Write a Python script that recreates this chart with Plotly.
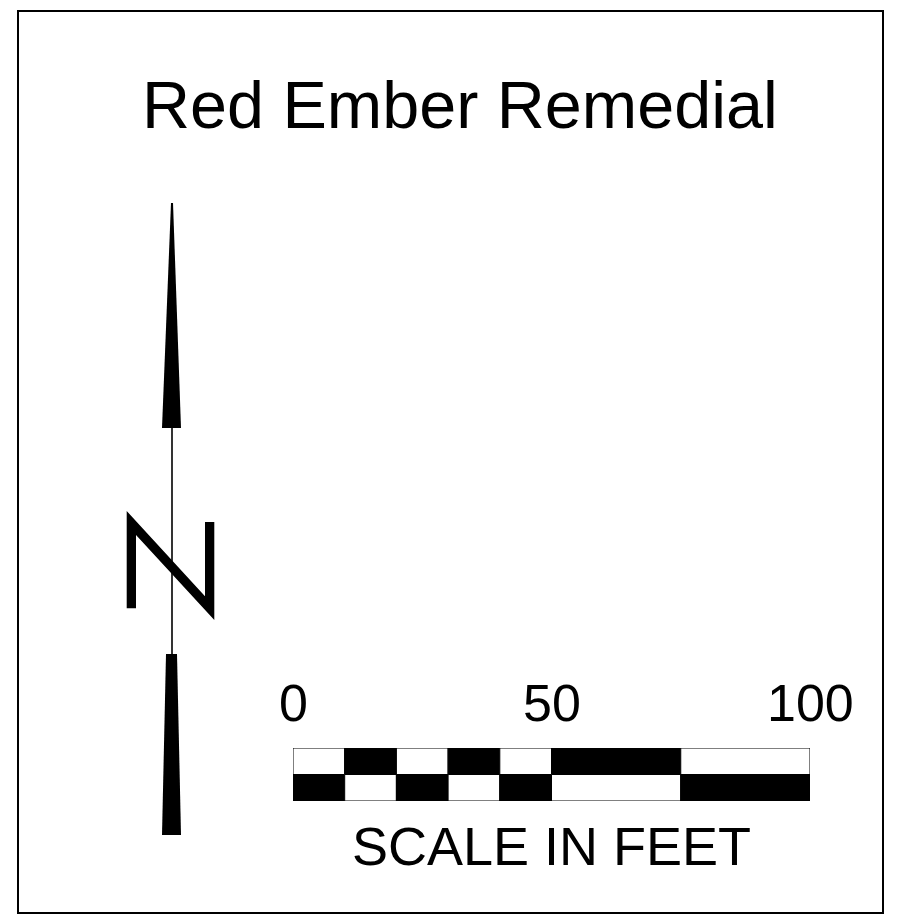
import plotly.graph_objects as go

# ---- data ----
title_text = "Red Ember Remedial"
scale_edges_ft = [0, 10, 20, 30, 40, 50, 75, 100]
top_row_colors = ["white", "black", "white", "black", "white", "black", "white"]
bottom_row_colors = ["black", "white", "black", "white", "black", "white", "black"]
scale_tick_values = [0, 50, 100]
scale_tick_labels = ["0", "50", "100"]
scale_caption = "SCALE IN FEET"

# page: the figure sits 8px in from the window's top-left corner (body margin)
OFF = 8
WIN_W, WIN_H = 901, 923
W, H = WIN_W - OFF, WIN_H - OFF
FONT = "Liberation Sans, Arial, Helvetica, sans-serif"


def dx(px):  # window pixel -> paper fraction (x)
    return (px - OFF) / W


def dy(px):  # window pixel -> paper fraction (y, from bottom)
    return 1 - (px - OFF) / H


fig = go.Figure()

starts = scale_edges_ft[:-1]
widths = [b - a for a, b in zip(scale_edges_ft[:-1], scale_edges_ft[1:])]

for row, colors in ((1, top_row_colors), (0, bottom_row_colors)):
    fig.add_trace(go.Bar(
        x=widths, base=starts, y=[row] * len(widths), orientation="h",
        width=1.0,
        marker=dict(color=colors, line=dict(color="black", width=1)),
        hoverinfo="skip", showlegend=False,
        xaxis="x", yaxis="y",
    ))

# helper trace for the full-page pixel axis
fig.add_trace(go.Scatter(x=[None], y=[None], xaxis="x2", yaxis="y2",
                         showlegend=False, hoverinfo="skip"))

# scale bar axes: 0 ft at px 293, 100 ft at px 810; rows between px 748 and 801
fig.update_layout(
    width=W, height=H,
    margin=dict(l=0, r=0, t=0, b=0),
    paper_bgcolor="white", plot_bgcolor="rgba(0,0,0,0)",
    barmode="overlay",
    xaxis=dict(domain=[dx(293), dx(810)], range=[0, 100], visible=False,
               fixedrange=True, anchor="y"),
    yaxis=dict(domain=[dy(801), dy(748)], range=[-0.5, 1.5], visible=False,
               fixedrange=True, anchor="x"),
    xaxis2=dict(domain=[0, 1], range=[OFF, WIN_W], visible=False, fixedrange=True, anchor="y2"),
    yaxis2=dict(domain=[0, 1], range=[WIN_H, OFF], visible=False, fixedrange=True, anchor="x2"),
)

shapes = []
# border
shapes.append(dict(type="rect", xref="x2", yref="y2", x0=18, y0=11, x1=883, y1=913,
                   line=dict(color="black", width=2), fillcolor="rgba(0,0,0,0)"))
# north arrow: top spike
shapes.append(dict(type="path", xref="x2", yref="y2",
                   path="M 171,203 L 173,203 L 181,428 L 162,428 Z",
                   fillcolor="black", line=dict(width=0)))
# shaft
shapes.append(dict(type="line", xref="x2", yref="y2", x0=172, y0=428, x1=172, y1=655,
                   line=dict(color="black", width=1.6)))
# bottom tail
shapes.append(dict(type="path", xref="x2", yref="y2",
                   path="M 166,654 L 177,654 L 181,835 L 162,835 Z",
                   fillcolor="black", line=dict(width=0)))
# stylised N
shapes.append(dict(type="path", xref="x2", yref="y2",
                   path="M 126.7,608.3 L 126.7,511 L 205,596.3 L 205,522 L 214.3,522 "
                        "L 214.3,620 L 136,535 L 136,608.3 Z",
                   fillcolor="black", line=dict(width=0)))
fig.update_layout(shapes=shapes)

annotations = [
    dict(text=title_text, xref="x2", yref="y2", x=459.5, y=104.5, showarrow=False,
         xanchor="center", yanchor="middle", font=dict(family=FONT, size=66.5, color="black")),
    dict(text=scale_caption, xref="x", yref="y2", x=50, y=845.5, showarrow=False,
         xanchor="center", yanchor="middle", font=dict(family=FONT, size=54, color="black")),
]
for v, lab in zip(scale_tick_values, scale_tick_labels):
    annotations.append(dict(text=lab, xref="x", yref="y2", x=v, y=702.5, showarrow=False,
                            xanchor="center", yanchor="middle",
                            font=dict(family=FONT, size=52, color="black")))
fig.update_layout(annotations=annotations)

fig.write_html("out.html")
